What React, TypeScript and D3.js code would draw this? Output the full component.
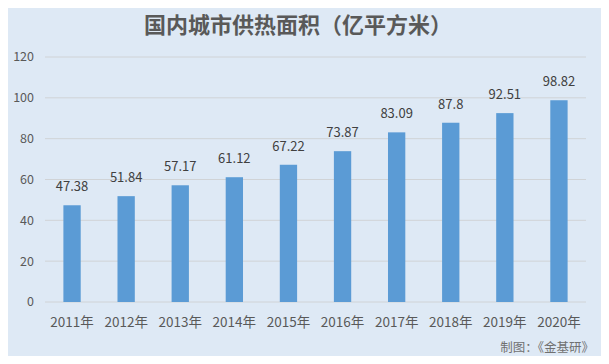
import React, { useEffect, useRef } from "react";
import * as d3 from "d3";

const years = ["2011年", "2012年", "2013年", "2014年", "2015年", "2016年", "2017年", "2018年", "2019年", "2020年"];
const areas = [47.38, 51.84, 57.17, 61.12, 67.22, 73.87, 83.09, 87.8, 92.51, 98.82];
const yTicks = [0, 20, 40, 60, 80, 100, 120];

const App = () => {
  const svgRef = useRef<SVGSVGElement>(null);

  useEffect(() => {
    const svg = d3.select(svgRef.current);
    svg.selectAll("*").remove();

    const width = 609;
    const height = 364;
    const margin = { top: 57, right: 23, bottom: 62, left: 45 };
    const font = "'Microsoft YaHei', 'Noto Sans CJK SC', sans-serif";
    const textColor = "#595959";

    // background + border
    svg
      .append("rect")
      .attr("x", 0.5)
      .attr("y", 0.5)
      .attr("width", width - 1)
      .attr("height", height - 1)
      .attr("fill", "#dee9f5")
      .attr("stroke", "#c8ccd2");

    const x = d3
      .scaleBand()
      .domain(years)
      .range([margin.left, width - margin.right])
      .paddingInner(0.68)
      .paddingOuter(0.34);
    const y = d3
      .scaleLinear()
      .domain([0, 120])
      .range([height - margin.bottom, margin.top]);

    // grid lines
    svg
      .append("g")
      .selectAll("line")
      .data(yTicks)
      .join("line")
      .attr("x1", margin.left)
      .attr("x2", width - margin.right)
      .attr("y1", (d) => y(d))
      .attr("y2", (d) => y(d))
      .attr("stroke", "#d0d3d6")
      .attr("stroke-width", 1);

    // y labels
    svg
      .append("g")
      .selectAll("text")
      .data(yTicks)
      .join("text")
      .attr("x", 34)
      .attr("y", (d) => y(d))
      .attr("dy", "0.35em")
      .attr("text-anchor", "end")
      .attr("font-family", font)
      .attr("font-size", 12.5)
      .attr("fill", textColor)
      .text((d) => d);

    // bars
    svg
      .append("g")
      .selectAll("rect")
      .data(areas)
      .join("rect")
      .attr("x", (d, i) => x(years[i])!)
      .attr("width", x.bandwidth())
      .attr("y", (d) => y(d))
      .attr("height", (d) => y(0) - y(d))
      .attr("fill", "#5b9bd5");

    // value labels
    svg
      .append("g")
      .selectAll("text")
      .data(areas)
      .join("text")
      .attr("x", (d, i) => x(years[i])! + x.bandwidth() / 2)
      .attr("y", (d) => y(d) - 14)
      .attr("text-anchor", "middle")
      .attr("font-family", font)
      .attr("font-size", 13)
      .attr("fill", "#404040")
      .text((d) => d);

    // x labels
    svg
      .append("g")
      .selectAll("text")
      .data(years)
      .join("text")
      .attr("x", (d) => x(d)! + x.bandwidth() / 2)
      .attr("y", y(0) + 25)
      .attr("text-anchor", "middle")
      .attr("font-family", font)
      .attr("font-size", 13.5)
      .attr("fill", textColor)
      .text((d) => d);

    // title
    svg
      .append("text")
      .attr("x", 298)
      .attr("y", 33)
      .attr("text-anchor", "middle")
      .attr("font-family", font)
      .attr("font-size", 22)
      .attr("font-weight", "bold")
      .attr("fill", textColor)
      .text("国内城市供热面积（亿平方米）");

    // source
    svg
      .append("text")
      .attr("x", 594)
      .attr("y", 352)
      .attr("text-anchor", "end")
      .attr("font-family", font)
      .attr("font-size", 12.5)
      .attr("fill", "#707070")
      .text("制图：《金基研》");
  }, []);

  return (
    <div style={{ margin: -8 }}>
      <svg ref={svgRef} width={609} height={364} style={{ display: "block" }} />
    </div>
  );
};

export default App;
